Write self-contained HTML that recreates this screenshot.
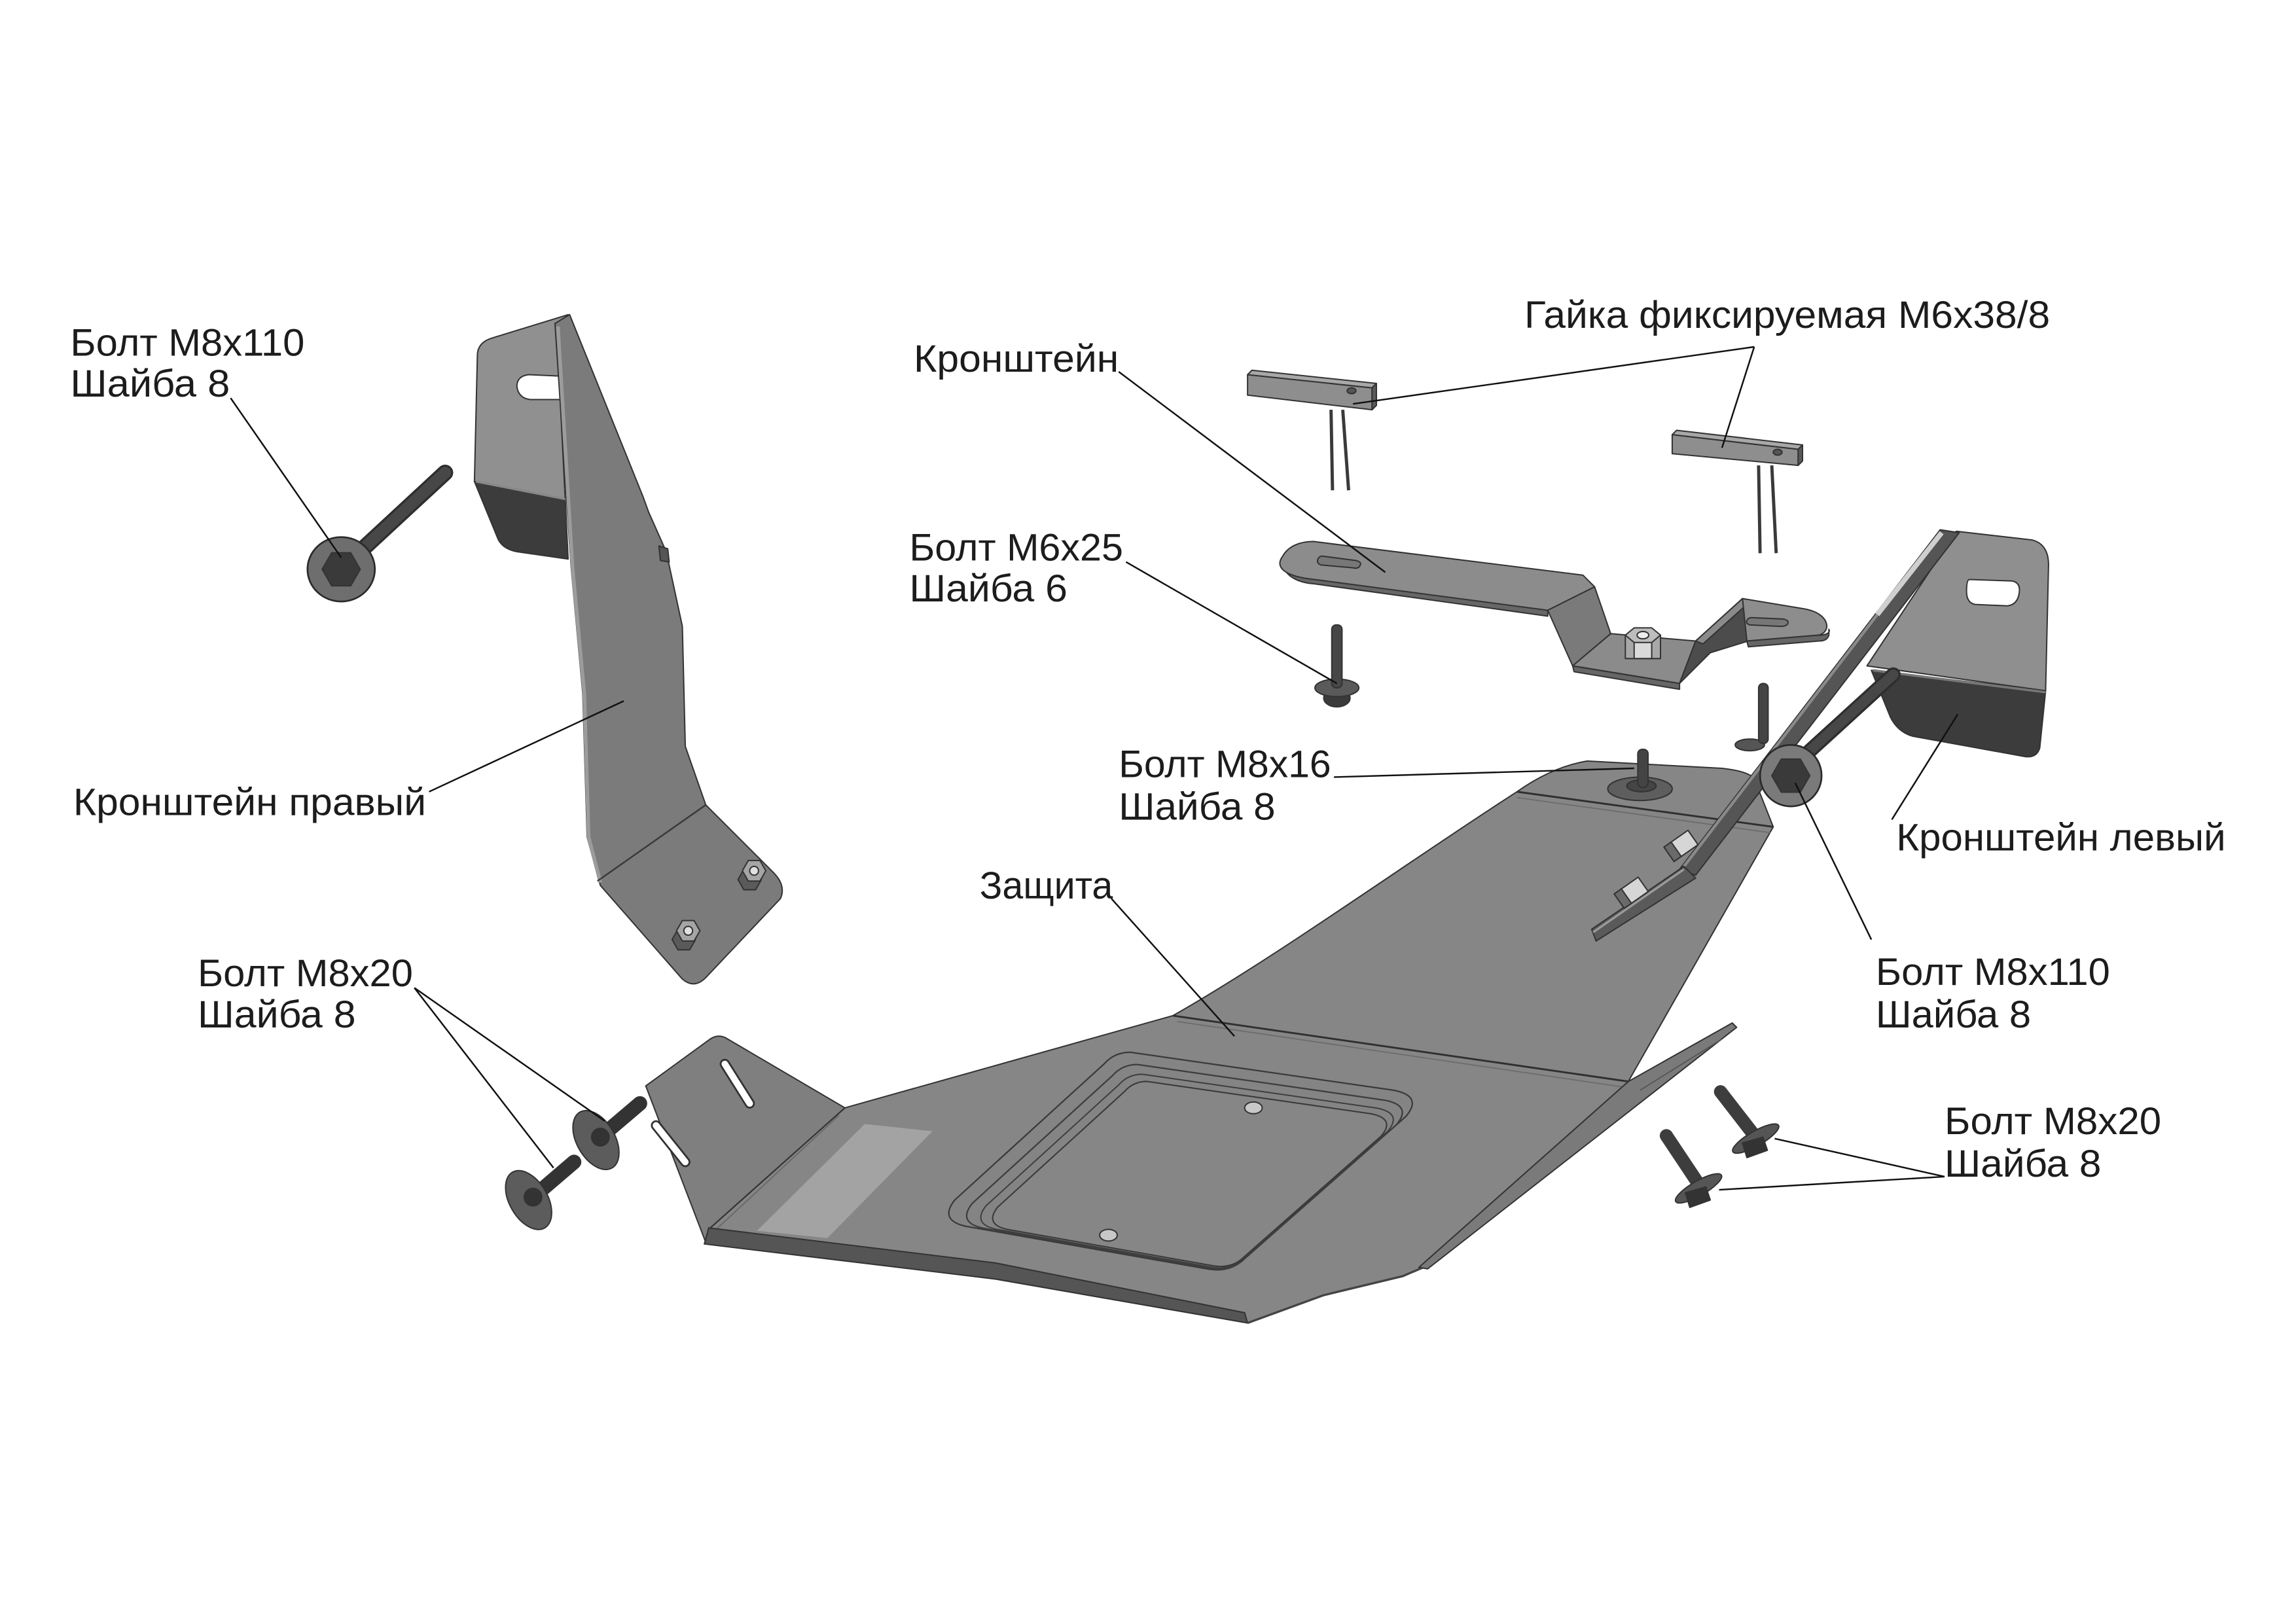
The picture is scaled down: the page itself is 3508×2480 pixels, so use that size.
<!DOCTYPE html>
<html><head><meta charset="utf-8"><style>
html,body{margin:0;padding:0;background:#fff;}
svg{display:block;}
text{font-family:"Liberation Sans","DejaVu Sans",sans-serif;font-size:26px;fill:#1c1c1c;}
</style></head><body>
<svg width="3508" height="2480" viewBox="0 0 1568 1109" preserveAspectRatio="none" xmlns="http://www.w3.org/2000/svg">
<rect width="1568" height="1109" fill="#fff"/>
<g stroke="#333" stroke-width="0.9" stroke-linejoin="round">

<!-- ===== Main plate (Защита) ===== -->
<!-- left flange -->
<path d="M 441,742 L 485,710 Q 491,706 497,710 L 577,757 L 482,849 Z" fill="#7f7f7f"/>
<line x1="495" y1="727" x2="512" y2="754" stroke="#333" stroke-width="7" stroke-linecap="round"/>
<line x1="495" y1="727" x2="512" y2="754" stroke="#fff" stroke-width="4.5" stroke-linecap="round"/>
<line x1="448" y1="769" x2="468" y2="794" stroke="#333" stroke-width="7" stroke-linecap="round"/>
<line x1="448" y1="769" x2="468" y2="794" stroke="#fff" stroke-width="4.5" stroke-linecap="round"/>
<!-- face -->
<path d="M 577,757 L 801,694 C 870,655 960,590 1036,541 Q 1060,524 1084,520 L 1176,525 Q 1194,527 1198,532 L 1211,565 L 1112,739 L 972,866 L 958,872 L 904,885 L 852,904 L 680,874 L 482,849 L 484,840 Z" fill="#868686"/>
<path d="M 577,757 L 484,840" fill="none"/>
<path d="M 573,762 L 487,842" fill="none" stroke="#6a6a6a"/>
<!-- bottom thickness band -->
<path d="M 484,839 L 680,863 L 850,897 L 852,904 L 680,874 L 481,850 Z" fill="#555"/>
<path d="M 852,904 L 904,885 L 958,872 L 972,866" fill="none" stroke="#444" stroke-width="1.5"/>
<!-- fold lines -->
<path d="M 801,694 L 1112,739" fill="none" stroke="#2f2f2f" stroke-width="1.3"/>
<path d="M 804,698 L 1110,743" fill="none" stroke="#6c6c6c" stroke-width="0.8"/>
<path d="M 1036,541 L 1211,565" fill="none" stroke="#2f2f2f" stroke-width="1.3"/>
<path d="M 1036,545 L 1209,569" fill="none" stroke="#6c6c6c" stroke-width="0.8"/>
<!-- right flange -->
<path d="M 1112,739 L 1183,699 L 1186,702 L 975,867 L 969,866 Z" fill="#7a7a7a"/>
<path d="M 1120,745 L 1176,710" fill="none" stroke="#555" stroke-width="0.8"/>
<!-- sticker -->
<path d="M 590.6,768 L 636.8,773 L 565,846 L 517,841 Z" fill="#a3a3a3" stroke="none"/>
<!-- recess -->
<path d="M 772,719 L 952,745 Q 972,749 960,763 L 850,860 Q 840,870 824,867 L 660,838 Q 641,834 652,820 L 754,727 Q 761,719 772,719 Z" fill="#848484" stroke="#3a3a3a" stroke-width="1"/>
<path d="M 772,719 L 952,745 Q 972,749 960,763 L 850,860 Q 840,870 824,867 L 660,838 Q 641,834 652,820 L 754,727 Q 761,719 772,719 Z" fill="none" stroke="#3e3e3e" stroke-width="1.1" transform="translate(804,796) scale(0.94) translate(-801,-792)"/>
<path d="M 772,719 L 952,745 Q 972,749 960,763 L 850,860 Q 840,870 824,867 L 660,838 Q 641,834 652,820 L 754,727 Q 761,719 772,719 Z" fill="none" stroke="#3e3e3e" stroke-width="1" transform="translate(806,799) scale(0.89) translate(-801,-792)"/>
<path d="M 772,719 L 952,745 Q 972,749 960,763 L 850,860 Q 840,870 824,867 L 660,838 Q 641,834 652,820 L 754,727 Q 761,719 772,719 Z" fill="#868686" stroke="#3a3a3a" stroke-width="1.1" transform="translate(808,801) scale(0.85) translate(-801,-792)"/>
<ellipse cx="856" cy="757" rx="6" ry="4" fill="#c8c8c8"/>
<ellipse cx="757" cy="844" rx="6" ry="4" fill="#c8c8c8"/>

<!-- Bolt M8x16 on plate -->
<ellipse cx="1120" cy="539" rx="22" ry="8" fill="#5e5e5e"/>
<ellipse cx="1121" cy="537" rx="10" ry="4" fill="#454545"/>
<rect x="1118.5" y="512" width="7" height="26" rx="3" fill="#444"/>

<!-- ===== Left bracket (Кронштейн левый) ===== -->
<!-- small bolt behind -->
<ellipse cx="1195" cy="509" rx="10" ry="4" fill="#555"/>
<rect x="1201" y="467" width="6.5" height="41" rx="3" fill="#444"/>
<!-- plate face -->
<path d="M 1336,363 L 1388,369 Q 1399,372 1399,386 L 1397,472 L 1275,455 Z" fill="#8f8f8f"/>
<path d="M 1345,396 L 1374,397 Q 1380,398 1379,405 Q 1378,413 1371,414 L 1349,413 Q 1343,412 1343,404 Q 1343,396 1345,396 Z" fill="#fff" stroke="#333"/>
<!-- dark block -->
<path d="M 1278,458 L 1397,472 L 1393,511 Q 1391,518 1383,517 L 1306,503 Q 1296,500 1291,490 Z" fill="#3c3c3c"/>
<path d="M 1279,458 L 1397,473" fill="none" stroke="#777" stroke-width="1.6"/>
<!-- long strip -->
<path d="M 1325,362 L 1338,364 L 1158,598 L 1147,594 Z" fill="#555"/>
<path d="M 1326,364 L 1282,420" fill="none" stroke="#cfcfcf" stroke-width="3.5"/>
<path d="M 1282,420 L 1150,592" fill="none" stroke="#8a8a8a" stroke-width="2"/>
<path d="M 1150,592 L 1087,635 L 1090,643 L 1158,600 Z" fill="#5a5a5a"/>
<path d="M 1150,594 L 1088,637" fill="none" stroke="#9a9a9a" stroke-width="1.5"/>
<!-- nuts on arm -->
<g transform="rotate(-35 1148 578)"><rect x="1138" y="572" width="20" height="12" fill="#d6d6d6"/><rect x="1138" y="572" width="6" height="12" fill="#6a6a6a"/></g>
<g transform="rotate(-35 1114 610)"><rect x="1104" y="604" width="20" height="12" fill="#d6d6d6"/><rect x="1104" y="604" width="6" height="12" fill="#6a6a6a"/></g>
<!-- M8x110 bolt right -->
<line x1="1236" y1="513" x2="1293" y2="461" stroke="#2e2e2e" stroke-width="10" stroke-linecap="round"/>
<line x1="1236" y1="513" x2="1293" y2="461" stroke="#474747" stroke-width="7" stroke-linecap="round"/>
<circle cx="1223" cy="530" r="21" fill="#7a7a7a" stroke="#2a2a2a" stroke-width="1.2"/>
<polygon points="1236,530 1229.5,541.3 1216.5,541.3 1210,530 1216.5,518.7 1229.5,518.7" fill="#3a3a3a"/>

<!-- ===== Kronshtein (middle) ===== -->
<path d="M 876,382 C 875,391 883,398 898,399 L 1057,421 L 1057,416 L 898,395 C 884,394 877,390 876,382 Z" fill="#676767"/>
<path d="M 897,370 L 1081,393 L 1089,401 L 1057,417 L 898,396 C 878,394 870,388 876,380 C 880,373 888,370 897,370 Z" fill="#8c8c8c"/>
<path d="M 903,380 L 926,383 Q 930,384 929,386 Q 928,389 924,388 L 902,386 Q 899,385 900,382 Q 901,380 903,380 Z" fill="#777"/>
<path d="M 1057,417 L 1089,401 L 1100,433 L 1074,455 Z" fill="#7a7a7a"/>
<path d="M 1074,455 L 1100,433 L 1158,438 L 1147,467 Z" fill="#8b8b8b"/>
<path d="M 1074,455 L 1147,467 L 1147,471 L 1075,459 Z" fill="#666"/>
<path d="M 1147,467 L 1158,438 L 1190,409 L 1194,438 L 1168,446 Z" fill="#4c4c4c"/>
<path d="M 1158,438 L 1190,409 L 1193,413 L 1163,440 Z" fill="#8a8a8a"/>
<path d="M 1190,409 L 1232,416 C 1250,419 1251,432 1242,434 L 1193,438 Z" fill="#8d8d8d"/>
<path d="M 1193,438 L 1242,434 C 1248,434 1250,432 1249,430 L 1249,434 C 1248,437 1246,438 1242,438 L 1194,442 Z" fill="#666"/>
<path d="M 1196,422 L 1218,423 Q 1222,424 1221,426 Q 1220,428 1216,428 L 1195,427 Q 1192,426 1193,424 Q 1194,422 1196,422 Z" fill="#777"/>
<!-- nut -->
<rect x="1110" y="434" width="24" height="16" fill="#a8a8a8"/>
<rect x="1116" y="434" width="12" height="16" fill="#dadada"/>
<polygon points="1134,434 1128,439 1116,439 1110,434 1116,429 1128,429" fill="#bdbdbd"/>
<ellipse cx="1122" cy="434" rx="4" ry="2.5" fill="#eee"/>

<!-- ===== Gaika x2 ===== -->
<line x1="909" y1="280" x2="910" y2="335" stroke="#3a3a3a" stroke-width="2.2"/>
<line x1="917" y1="280" x2="921" y2="335" stroke="#3a3a3a" stroke-width="2.2"/>
<path d="M 852,256 L 937,265 L 937,280 L 852,270 Z" fill="#8e8e8e"/>
<path d="M 852,256 L 855,253 L 940,262 L 937,265 Z" fill="#a8a8a8"/>
<path d="M 937,265 L 940,262 L 940,277 L 937,280 Z" fill="#5a5a5a"/>
<ellipse cx="923" cy="267" rx="3" ry="2" fill="#555"/>
<line x1="1201" y1="318" x2="1202" y2="378" stroke="#3a3a3a" stroke-width="2.2"/>
<line x1="1210" y1="318" x2="1213" y2="378" stroke="#3a3a3a" stroke-width="2.2"/>
<path d="M 1142,297 L 1228,307 L 1228,318 L 1142,310 Z" fill="#8e8e8e"/>
<path d="M 1142,297 L 1145,294 L 1231,304 L 1228,307 Z" fill="#a8a8a8"/>
<path d="M 1228,307 L 1231,304 L 1231,315 L 1228,318 Z" fill="#5a5a5a"/>
<ellipse cx="1214" cy="309" rx="3" ry="2" fill="#555"/>

<!-- Bolt M6x25 -->
<ellipse cx="913" cy="477" rx="9" ry="6" fill="#3a3a3a"/>
<ellipse cx="913" cy="470" rx="15" ry="6" fill="#5a5a5a"/>
<rect x="909.5" y="427" width="7" height="43" rx="3" fill="#474747"/>

<!-- ===== Right bracket (Кронштейн правый) ===== -->
<path d="M 388,215 L 336,231 Q 326,234 326,243 L 324,329 L 386,341 L 380,222 Z" fill="#909090"/>
<path d="M 383,257 L 361,256 Q 353,257 353,264 Q 354,272 362,273 L 383,273 Z" fill="#fff"/>
<path d="M 324,329 L 386,341 L 388,382 L 353,377 Q 343,375 340,368 Z" fill="#3c3c3c"/>
<path d="M 325,329 L 386,341" stroke="#888" stroke-width="1.5" fill="none"/>
<path d="M 379,221 L 389,215 L 439,339 L 443,350 L 455,377 L 466,428 L 468,510 L 482,550 L 528,596 Q 537,605 533,614 L 482,668 Q 474,676 466,669 L 410,605 L 401,572 L 398,474 L 390,387 Z" fill="#7b7b7b"/>
<path d="M 381,223 L 391,388 L 399,474 L 402,572 L 410,603" stroke="#9c9c9c" stroke-width="2.5" fill="none"/>
<path d="M 408,602 L 482,550" fill="none" stroke="#3a3a3a" stroke-width="1.1"/>
<path d="M 450,373 L 456,375 L 457,384 L 451,383 Z" fill="#555"/>
<!-- nuts -->
<polygon points="520,601 516,608 508,608 504,601 508,594 516,594" fill="#5a5a5a"/>
<polygon points="523,595 519,602 511,602 507,595 511,588 519,588" fill="#a5a5a5"/>
<circle cx="515" cy="595" r="3" fill="#e0e0e0"/>
<polygon points="475,642 471,649 463,649 459,642 463,635 471,635" fill="#5a5a5a"/>
<polygon points="478,636 474,643 466,643 462,636 466,629 474,629" fill="#a5a5a5"/>
<circle cx="470" cy="636" r="3" fill="#e0e0e0"/>

<!-- Bolt M8x110 left -->
<line x1="236" y1="386" x2="304" y2="323" stroke="#2e2e2e" stroke-width="11" stroke-linecap="round"/>
<line x1="236" y1="386" x2="304" y2="323" stroke="#474747" stroke-width="8" stroke-linecap="round"/>
<ellipse cx="233" cy="389" rx="23" ry="22" fill="#6e6e6e" stroke="#2a2a2a" stroke-width="1.2"/>
<polygon points="246,389 239.5,400.3 226.5,400.3 220,389 226.5,377.7 239.5,377.7" fill="#3a3a3a"/>

<!-- Bolts M8x20 left -->
<line x1="410" y1="777" x2="437" y2="754" stroke="#333" stroke-width="10" stroke-linecap="round"/>
<ellipse cx="407" cy="779" rx="22" ry="13" transform="rotate(60 407 779)" fill="#5c5c5c"/>
<circle cx="410" cy="777" r="6" fill="#333"/>
<line x1="364" y1="818" x2="392" y2="794" stroke="#333" stroke-width="10" stroke-linecap="round"/>
<ellipse cx="361" cy="820" rx="22" ry="13" transform="rotate(60 361 820)" fill="#5c5c5c"/>
<circle cx="364" cy="818" r="6" fill="#333"/>

<!-- Bolts M8x20 right -->
<line x1="1175" y1="746" x2="1199" y2="777" stroke="#3d3d3d" stroke-width="9" stroke-linecap="round"/>
<ellipse cx="1199" cy="778" rx="18" ry="5" transform="rotate(-30 1199 778)" fill="#555"/>
<polygon points="1190,781 1204,777 1207,786 1193,791" fill="#333"/>
<line x1="1138" y1="776" x2="1160" y2="809" stroke="#3d3d3d" stroke-width="9" stroke-linecap="round"/>
<ellipse cx="1160" cy="812" rx="18" ry="5" transform="rotate(-30 1160 812)" fill="#555"/>
<polygon points="1151,815 1165,811 1168,820 1154,825" fill="#333"/>
</g>

<!-- ===== Leader lines ===== -->
<g stroke="#111" stroke-width="1.1" fill="none">
<line x1="157.5" y1="272" x2="233" y2="381"/>
<line x1="293" y1="541" x2="426" y2="479"/>
<line x1="283" y1="675" x2="378" y2="798"/>
<line x1="283" y1="675" x2="413" y2="766"/>
<line x1="764" y1="254" x2="946" y2="391"/>
<line x1="1198" y1="237" x2="924" y2="276"/>
<line x1="1198" y1="237" x2="1176" y2="306"/>
<line x1="769" y1="384" x2="913" y2="467"/>
<line x1="911" y1="531" x2="1116" y2="525"/>
<line x1="1292" y1="560" x2="1337" y2="488"/>
<line x1="1278" y1="642" x2="1226" y2="535"/>
<line x1="1328" y1="804" x2="1212" y2="778"/>
<line x1="1328" y1="804" x2="1174" y2="813"/>
<line x1="759" y1="614" x2="843" y2="708"/>
</g>

<!-- ===== Labels ===== -->
<text x="48" y="243" textLength="160" lengthAdjust="spacingAndGlyphs">Болт M8x110</text>
<text x="48" y="271" textLength="109" lengthAdjust="spacingAndGlyphs">Шайба 8</text>
<text x="50" y="557" textLength="241" lengthAdjust="spacingAndGlyphs">Кронштейн правый</text>
<text x="135" y="674" textLength="147" lengthAdjust="spacingAndGlyphs">Болт M8x20</text>
<text x="135" y="702" textLength="108" lengthAdjust="spacingAndGlyphs">Шайба 8</text>
<text x="624" y="254" textLength="140" lengthAdjust="spacingAndGlyphs">Кронштейн</text>
<text x="1041" y="224" textLength="359" lengthAdjust="spacingAndGlyphs">Гайка фиксируемая M6x38/8</text>
<text x="621" y="383" textLength="146" lengthAdjust="spacingAndGlyphs">Болт M6x25</text>
<text x="621" y="411" textLength="108" lengthAdjust="spacingAndGlyphs">Шайба 6</text>
<text x="764" y="531" textLength="145" lengthAdjust="spacingAndGlyphs">Болт M8x16</text>
<text x="764" y="560" textLength="107" lengthAdjust="spacingAndGlyphs">Шайба 8</text>
<text x="1295" y="581" textLength="225" lengthAdjust="spacingAndGlyphs">Кронштейн левый</text>
<text x="669" y="614" textLength="91" lengthAdjust="spacingAndGlyphs">Защита</text>
<text x="1281" y="673" textLength="160" lengthAdjust="spacingAndGlyphs">Болт M8x110</text>
<text x="1281" y="702" textLength="106" lengthAdjust="spacingAndGlyphs">Шайба 8</text>
<text x="1328" y="775" textLength="148" lengthAdjust="spacingAndGlyphs">Болт M8x20</text>
<text x="1328" y="804" textLength="107" lengthAdjust="spacingAndGlyphs">Шайба 8</text>
</svg>
</body></html>
